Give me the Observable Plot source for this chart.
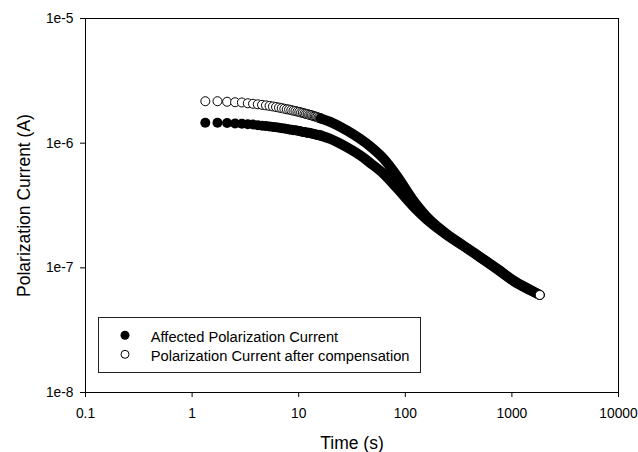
<!DOCTYPE html>
<html>
<head>
<meta charset="utf-8">
<script src="https://cdn.jsdelivr.net/npm/d3@7"></script>
<script src="https://cdn.jsdelivr.net/npm/@observablehq/plot@0.6"></script>
<style>
  html, body { margin: 0; padding: 0; background: white; }
  #wrap { position: relative; width: 638px; height: 452px; font-family: "Liberation Sans", Arial, sans-serif; }
  #legend { position: absolute; left: 98px; top: 317px; width: 323px; height: 56px; box-sizing: border-box; border: 1px solid #222; background: white; }
</style>
</head>
<body>
<div id="wrap"></div>
<script>
// ---- axis ticks ----
const xTicks = [0.1, 1, 10, 100, 1000, 10000];
const xTickLabels = ["0.1", "1", "10", "100", "1000", "10000"];
const yTicks = [1e-8, 1e-7, 1e-6, 1e-5];
const yTickLabels = ["1e-8", "1e-7", "1e-6", "1e-5"];

// ---- series names ----
const seriesNames = ["Affected Polarization Current", "Polarization Current after compensation"];

// ---- early, individually visible samples (time in s, current in µA) ----
const earlyTime = [1.33, 1.73, 2.13, 2.53, 2.93, 3.33, 3.73, 4.13, 4.53, 4.93,
  5.33, 5.73, 6.13, 6.53, 6.93, 7.33, 7.73, 8.13, 8.53, 8.93,
  9.33, 9.73, 10.13, 10.53, 10.93, 11.33, 11.73, 12.13, 12.53, 12.93,
  13.33, 13.73, 14.13, 14.53, 14.93, 15.33, 15.73, 16.13];
const affectedEarly = [1.46, 1.46, 1.45, 1.44, 1.43, 1.42, 1.41, 1.39, 1.38, 1.37,
  1.36, 1.35, 1.34, 1.33, 1.32, 1.31, 1.30, 1.29, 1.28, 1.27,
  1.27, 1.26, 1.25, 1.24, 1.23, 1.23, 1.22, 1.21, 1.21, 1.20,
  1.19, 1.19, 1.18, 1.17, 1.17, 1.16, 1.16, 1.15];
const compensatedEarly = [2.17, 2.17, 2.15, 2.13, 2.12, 2.09, 2.07, 2.05, 2.03, 2.01,
  1.99, 1.97, 1.95, 1.93, 1.91, 1.89, 1.87, 1.86, 1.84, 1.82,
  1.81, 1.79, 1.78, 1.76, 1.75, 1.73, 1.72, 1.71, 1.69, 1.68,
  1.67, 1.65, 1.64, 1.63, 1.62, 1.60, 1.59, 1.58];

// ---- dense part (markers merge into a band), time in s, current in A ----
const bandTime = [16.13, 19.8, 28.5, 37.8, 46.9, 62.2, 84.1, 118.9, 171.7, 248, 350, 506, 731, 1033, 1492, 1824];
const affectedBand = [1.15e-6, 1.081e-6, 9.24e-7, 7.97e-7, 6.94e-7, 5.71e-7, 4.33e-7, 3.11e-7, 2.31e-7, 1.82e-7, 1.50e-7, 1.21e-7, 9.71e-8, 7.85e-8, 6.59e-8, 6.06e-8];
const compensatedBand = [1.58e-6, 1.48e-6, 1.26e-6, 1.081e-6, 9.41e-7, 7.54e-7, 5.41e-7, 3.47e-7, 2.40e-7, 1.85e-7, 1.51e-7, 1.22e-7, 9.80e-8, 7.92e-8, 6.65e-8, 6.06e-8];

// ---- tables ----
const affEarly = earlyTime.map((t, i) => ({t, I: affectedEarly[i] * 1e-6}));
const cmpEarly = earlyTime.map((t, i) => ({t, I: compensatedEarly[i] * 1e-6}));
const affBand = bandTime.map((t, i) => ({t, I: affectedBand[i]}));
const cmpBand = bandTime.map((t, i) => ({t, I: compensatedBand[i]}));
const cmpLast = [cmpBand[cmpBand.length - 1]];

const FONT = "'Liberation Sans', Arial, sans-serif";

const chart = Plot.plot({
  width: 638,
  height: 452,
  marginLeft: 85,
  marginRight: 20,
  marginTop: 18,
  marginBottom: 60,
  style: {fontFamily: FONT, fontSize: "13.8px", background: "white", color: "black", overflow: "visible"},
  x: {type: "log", domain: [0.1, 10000]},
  y: {type: "log", domain: [1e-8, 1e-5]},
  marks: [
    Plot.frame({stroke: "black", strokeWidth: 1}),
    Plot.axisX(xTicks, {tickSize: 5, tickPadding: 11, tickFormat: d => xTickLabels[xTicks.indexOf(d)], label: null, fontSize: 13.8}),
    Plot.axisY(yTicks, {tickSize: 5, tickPadding: 7, tickFormat: d => yTickLabels[yTicks.indexOf(d)], label: null, fontSize: 13.8}),
    // affected (filled markers)
    Plot.dot(affEarly, {x: "t", y: "I", r: 5, fill: "black", stroke: "none"}),
    Plot.line(affBand, {x: "t", y: "I", stroke: "black", strokeWidth: 10, strokeLinecap: "round", strokeLinejoin: "round", curve: "catmull-rom"}),
    // compensated (open markers)
    Plot.dot(cmpEarly, {x: "t", y: "I", r: 4.5, fill: "white", stroke: "black", strokeWidth: 1}),
    Plot.line(cmpBand, {x: "t", y: "I", stroke: "black", strokeWidth: 10, strokeLinecap: "round", strokeLinejoin: "round", curve: "catmull-rom"}),
    Plot.dot(cmpLast, {x: "t", y: "I", r: 4.5, fill: "white", stroke: "black", strokeWidth: 1}),
    // axis titles
    Plot.text(["Time (s)"], {text: d => d, frameAnchor: "bottom", dy: 56.3, lineAnchor: "bottom", fontSize: 17.5, fill: "black"}),
    Plot.text(["Polarization Current (A)"], {text: d => d, frameAnchor: "left", rotate: -90, dx: -56, lineAnchor: "bottom", textAnchor: "middle", fontSize: 17.5, fill: "black"})
  ]
});

const wrap = document.getElementById("wrap");
wrap.appendChild(chart);

// legend (inside plot area)
const legend = document.createElement("div");
legend.id = "legend";
const ns = "http://www.w3.org/2000/svg";
const lsvg = document.createElementNS(ns, "svg");
lsvg.setAttribute("width", "321");
lsvg.setAttribute("height", "54");
lsvg.style.display = "block";
const items = [
  {name: seriesNames[0], fill: "black", r: 4.5, stroke: "none"},
  {name: seriesNames[1], fill: "white", r: 4, stroke: "black"}
];
items.forEach((it, i) => {
  const cy = 17.3 + i * 19;
  const c = document.createElementNS(ns, "circle");
  c.setAttribute("cx", 26);
  c.setAttribute("cy", cy);
  c.setAttribute("r", it.r);
  c.setAttribute("fill", it.fill);
  c.setAttribute("stroke", it.stroke);
  c.setAttribute("stroke-width", 1);
  lsvg.appendChild(c);
  const t = document.createElementNS(ns, "text");
  t.setAttribute("x", 51.7);
  t.setAttribute("y", cy + 6.2);
  t.setAttribute("font-family", FONT);
  t.setAttribute("font-size", "14.7");
  t.setAttribute("fill", "black");
  t.textContent = it.name;
  lsvg.appendChild(t);
});
legend.appendChild(lsvg);
wrap.appendChild(legend);
</script>
</body>
</html>
